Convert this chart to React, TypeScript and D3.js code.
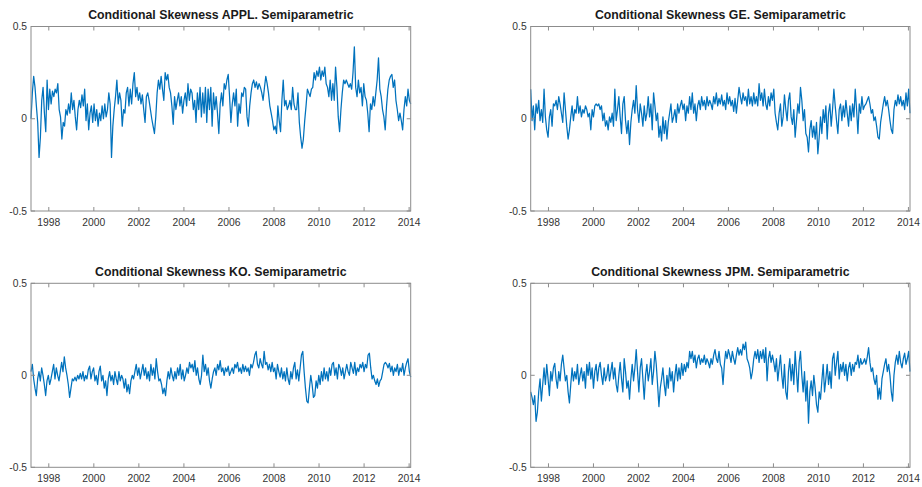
import React from "react";
import * as d3 from "d3";

const X_START = 1997.21;
const X_END = 2014.07;
const yearTicks = [1998, 2000, 2002, 2004, 2006, 2008, 2010, 2012, 2014];
const valueTicks = [-0.5, 0, 0.5];

const titles = [
  "Conditional Skewness APPL. Semiparametric",
  "Conditional Skewness GE. Semiparametric",
  "Conditional Skewness KO. Semiparametric",
  "Conditional Skewness JPM. Semiparametric",
];

const applSkew = [
  0.00, 0.14, 0.23, 0.17, 0.07, -0.02, -0.21, -0.10, 0.10, 0.17, 0.03, -0.07, 0.21, 0.05, 0.16, 0.08, 0.15, 0.12, 0.16, 0.14,
  0.19, 0.05, 0.01, -0.11, -0.02, -0.04, 0.05, 0.02, 0.08, 0.03, 0.14, 0.05, 0.10, 0.01, -0.06, 0.05, 0.10, 0.06, 0.13, 0.07,
  0.16, -0.01, 0.08, -0.06, 0.03, 0.07, -0.02, 0.08, -0.01, 0.05, -0.04, 0.03, -0.01, 0.07, 0.00, 0.08, 0.01, 0.05, 0.14, 0.08,
  -0.21, -0.04, 0.05, 0.12, 0.21, 0.08, 0.14, 0.10, -0.04, 0.05, 0.03, 0.14, 0.17, 0.07, 0.16, 0.08, 0.19, 0.25, 0.12, 0.17,
  0.10, 0.14, 0.08, 0.13, 0.05, -0.02, 0.12, 0.14, 0.10, 0.05, 0.00, -0.04, -0.08, 0.01, 0.14, 0.21, 0.16, 0.23, 0.16, 0.10,
  0.25, 0.21, 0.24, 0.17, 0.14, 0.07, -0.03, 0.12, 0.05, 0.10, 0.14, 0.07, 0.12, 0.03, 0.10, 0.14, 0.07, 0.19, 0.10, 0.16,
  0.14, 0.05, 0.10, -0.02, 0.14, 0.05, 0.17, 0.01, 0.14, 0.03, 0.17, -0.02, 0.16, 0.05, 0.17, -0.04, 0.14, 0.05, 0.12, 0.03,
  -0.08, 0.08, 0.14, 0.07, 0.19, 0.16, 0.21, 0.24, 0.12, -0.02, 0.08, 0.14, 0.07, 0.16, -0.04, 0.08, 0.03, 0.14, 0.12, 0.17,
  0.16, 0.01, -0.04, 0.07, 0.14, 0.19, 0.21, 0.17, 0.20, 0.16, 0.19, 0.17, 0.14, 0.10, 0.17, 0.23, 0.19, 0.14, 0.07, 0.03,
  -0.01, -0.06, -0.04, -0.08, 0.07, -0.01, -0.07, 0.10, 0.21, 0.07, 0.10, 0.05, 0.07, 0.10, 0.05, 0.17, 0.08, 0.05, 0.05, 0.14,
  -0.02, -0.10, -0.16, -0.11, -0.01, 0.07, 0.16, 0.14, 0.12, 0.16, 0.17, 0.25, 0.21, 0.26, 0.23, 0.28, 0.21, 0.26, 0.23, 0.28,
  0.19, 0.17, 0.12, 0.21, 0.10, 0.19, 0.10, 0.28, 0.17, 0.01, -0.07, 0.05, 0.14, 0.21, 0.19, 0.21, 0.19, 0.17, 0.19, 0.16,
  0.25, 0.39, 0.17, 0.12, 0.21, 0.14, 0.17, 0.07, 0.19, 0.12, 0.10, 0.03, -0.07, 0.08, 0.05, 0.12, 0.07, 0.14, 0.21, 0.33,
  0.16, 0.12, 0.05, 0.01, -0.06, 0.07, 0.16, 0.21, 0.23, 0.24, 0.17, 0.21, 0.10, 0.05, -0.01, 0.03, -0.01, -0.06, 0.05, 0.12,
  0.07, 0.16, 0.10, 0.08,
];

const geSkew = [
  0.16, -0.01, 0.07, -0.06, 0.08, 0.03, 0.10, -0.01, 0.05, -0.02, 0.16, 0.01, -0.06, -0.10, 0.01, 0.05, -0.04, 0.08, 0.07, 0.10,
  0.05, 0.12, 0.08, 0.03, -0.02, 0.14, 0.05, -0.04, -0.11, -0.06, 0.01, 0.07, -0.01, 0.05, 0.03, 0.12, 0.03, 0.07, 0.01, 0.05,
  0.03, 0.07, 0.05, 0.01, 0.03, -0.06, 0.05, 0.01, 0.07, 0.08, 0.07, 0.08, 0.05, 0.07, -0.01, 0.03, -0.04, -0.01, -0.06, 0.01,
  -0.02, 0.03, -0.04, 0.16, -0.01, 0.05, 0.12, 0.01, -0.08, 0.08, 0.12, -0.01, -0.08, -0.01, -0.14, -0.02, 0.05, 0.10, 0.03, 0.18,
  0.05, -0.02, 0.08, 0.03, -0.04, 0.07, -0.01, 0.03, 0.12, 0.01, 0.08, -0.06, 0.14, 0.07, -0.01, 0.03, -0.10, -0.04, -0.12, 0.01,
  -0.08, -0.01, -0.11, -0.02, 0.03, 0.08, -0.02, 0.01, 0.05, -0.02, 0.08, 0.03, 0.07, 0.10, 0.05, 0.08, -0.01, 0.07, 0.03, 0.12,
  0.05, 0.14, 0.03, 0.08, -0.01, 0.07, 0.10, 0.05, 0.12, 0.07, 0.10, 0.05, 0.12, 0.07, 0.10, 0.08, 0.05, 0.12, 0.08, 0.14,
  0.07, 0.11, 0.08, 0.13, 0.07, 0.10, 0.05, 0.14, 0.08, 0.12, 0.07, 0.10, 0.04, 0.11, 0.03, 0.10, 0.17, 0.12, 0.08, 0.14,
  0.10, 0.12, 0.07, 0.16, 0.08, 0.12, 0.07, 0.14, 0.08, 0.12, 0.07, 0.19, 0.10, 0.14, 0.07, 0.16, 0.08, 0.05, 0.12, 0.07,
  0.14, 0.10, 0.16, 0.03, -0.02, -0.06, 0.03, 0.08, -0.04, 0.01, 0.13, 0.05, -0.01, 0.10, 0.14, 0.01, -0.03, 0.05, -0.10, -0.01,
  0.08, 0.03, 0.17, 0.10, -0.01, 0.05, -0.08, -0.10, -0.18, -0.06, -0.01, -0.10, -0.04, -0.11, -0.02, -0.19, -0.10, 0.01, -0.08, 0.05,
  -0.02, 0.07, -0.11, 0.03, 0.08, -0.04, 0.05, 0.16, 0.07, -0.01, -0.08, 0.05, 0.08, -0.01, 0.07, 0.01, 0.10, 0.03, -0.04, 0.07,
  -0.01, 0.08, 0.01, 0.16, 0.05, -0.08, 0.08, 0.03, 0.12, 0.05, 0.07, 0.08, 0.10, 0.12, 0.08, 0.03, 0.05, -0.01, 0.01, -0.04,
  -0.10, -0.11, -0.02, 0.03, 0.08, 0.12, 0.07, 0.10, 0.05, -0.01, -0.06, -0.08, 0.05, 0.10, 0.07, 0.13, 0.08, 0.12, 0.07, 0.10,
  0.05, 0.14, 0.07, 0.16, 0.03,
];

const koSkew = [
  0.02, 0.06, -0.02, -0.07, -0.11, -0.02, 0.02, -0.03, 0.04, 0.00, -0.05, -0.11, -0.03, 0.00, -0.05, -0.02, 0.02, 0.06, -0.02, 0.04,
  0.00, -0.03, 0.02, 0.07, 0.02, 0.10, 0.04, 0.00, -0.05, -0.12, -0.07, -0.02, -0.03, -0.01, -0.03, 0.00, -0.02, 0.01, -0.02, 0.02,
  -0.03, 0.00, -0.02, 0.03, 0.05, -0.02, 0.02, 0.04, -0.03, 0.00, -0.05, 0.02, 0.05, -0.03, 0.00, -0.07, -0.03, -0.11, -0.02, 0.02,
  -0.03, 0.00, -0.05, 0.02, -0.02, -0.05, 0.02, -0.03, 0.00, -0.02, -0.07, -0.02, -0.09, -0.05, -0.10, -0.03, 0.00, -0.02, 0.02, 0.06,
  0.00, 0.04, -0.02, 0.02, 0.06, 0.00, 0.04, -0.02, 0.02, -0.03, 0.06, 0.00, 0.04, -0.02, 0.09, 0.02, -0.03, -0.02, -0.05, -0.10,
  -0.07, -0.11, -0.03, 0.02, -0.02, 0.04, 0.00, -0.03, 0.02, -0.02, 0.04, 0.00, 0.06, -0.02, 0.03, -0.03, 0.00, 0.04, 0.01, 0.07,
  0.04, 0.06, 0.02, 0.08, 0.00, 0.04, -0.02, -0.05, 0.00, 0.11, 0.02, 0.06, 0.00, 0.04, -0.03, -0.07, -0.02, 0.02, 0.04, 0.00,
  0.06, 0.03, 0.08, 0.02, 0.04, 0.00, 0.04, 0.02, 0.05, 0.00, 0.02, 0.04, 0.01, 0.06, 0.04, 0.07, 0.02, 0.04, 0.01, 0.06,
  0.02, 0.05, 0.02, 0.04, 0.00, 0.06, 0.04, 0.07, 0.11, 0.13, 0.06, 0.04, 0.09, 0.06, 0.04, 0.13, 0.06, 0.07, 0.03, 0.06,
  0.02, 0.07, 0.02, 0.04, -0.02, 0.06, 0.02, -0.01, 0.04, -0.02, 0.02, -0.03, 0.04, -0.02, -0.05, 0.02, -0.02, 0.04, 0.07, -0.02,
  0.03, -0.03, 0.04, 0.11, 0.13, 0.02, -0.07, -0.14, -0.15, -0.07, 0.00, -0.05, -0.12, -0.11, -0.03, -0.07, 0.00, -0.05, 0.02, -0.03,
  0.04, -0.02, 0.02, -0.03, 0.04, 0.00, 0.06, 0.07, 0.00, 0.04, -0.02, 0.06, 0.04, 0.00, 0.04, -0.02, 0.02, 0.06, 0.02, 0.00,
  0.07, 0.04, 0.01, 0.07, 0.00, 0.04, 0.02, 0.06, 0.04, 0.07, 0.02, 0.06, 0.04, 0.11, 0.12, 0.04, -0.02, 0.00, -0.03, -0.05,
  -0.02, -0.06, -0.03, -0.02, 0.02, 0.06, 0.07, 0.06, 0.04, 0.065, 0.02, 0.05, 0.00, 0.04, 0.02, 0.06, 0.00, 0.04, 0.02, 0.065,
  0.00, 0.04, 0.07, 0.09, 0.02, -0.01,
];

const jpmSkew = [
  -0.09, -0.12, -0.16, -0.11, -0.25, -0.20, -0.09, -0.02, -0.14, -0.05, 0.04, -0.05, 0.06, -0.02, -0.11, 0.02, -0.03, 0.04, 0.065, -0.02,
  -0.07, 0.02, -0.03, 0.06, 0.11, 0.04, -0.03, 0.00, -0.09, -0.15, -0.05, 0.04, -0.03, 0.02, -0.02, 0.06, -0.05, 0.00, 0.04, -0.03,
  0.02, -0.07, 0.06, 0.00, 0.07, -0.02, 0.04, -0.07, 0.02, 0.06, -0.03, 0.04, 0.07, 0.00, -0.05, 0.04, -0.03, 0.00, 0.06, -0.03,
  0.02, 0.07, -0.02, 0.04, -0.05, -0.09, 0.00, 0.07, -0.02, -0.09, 0.09, 0.02, -0.07, -0.03, -0.13, -0.02, 0.06, -0.03, 0.04, 0.14,
  0.02, -0.09, 0.04, 0.09, -0.02, -0.13, 0.00, 0.06, -0.03, 0.02, 0.09, -0.05, 0.02, 0.13, 0.06, -0.05, -0.17, -0.07, -0.02, 0.04,
  -0.05, -0.11, 0.00, -0.07, 0.04, -0.03, 0.02, -0.09, 0.00, 0.06, -0.03, 0.04, -0.02, 0.065, 0.00, 0.06, 0.02, 0.07, 0.04, 0.13,
  0.09, 0.13, 0.07, 0.11, 0.04, 0.09, 0.11, 0.06, 0.09, 0.07, 0.11, 0.06, 0.09, 0.07, 0.04, 0.09, 0.06, 0.11, 0.14, 0.09,
  0.07, 0.13, 0.06, 0.04, -0.05, 0.06, 0.13, 0.09, 0.14, 0.11, 0.07, 0.13, 0.09, 0.06, 0.11, 0.15, 0.11, 0.14, 0.11, 0.17,
  0.14, 0.18, 0.09, 0.07, 0.04, -0.02, 0.02, 0.09, 0.13, 0.09, 0.14, 0.07, 0.13, 0.09, 0.14, 0.07, 0.15, -0.03, 0.09, 0.13,
  0.07, 0.11, 0.07, 0.02, 0.09, -0.03, 0.04, 0.11, 0.00, -0.07, 0.06, -0.09, -0.13, 0.02, 0.09, -0.03, 0.06, -0.05, 0.13, 0.02,
  -0.09, 0.07, 0.13, 0.00, -0.09, 0.02, -0.14, -0.03, -0.26, -0.09, -0.03, -0.11, 0.00, -0.07, -0.16, -0.20, -0.09, -0.13, -0.03, 0.06,
  -0.09, -0.02, 0.06, -0.05, 0.02, -0.07, 0.09, 0.12, 0.00, 0.07, 0.13, -0.02, 0.06, 0.02, 0.07, 0.00, 0.06, -0.03, 0.04, 0.07,
  0.00, 0.06, 0.02, 0.07, 0.06, 0.11, 0.04, 0.09, 0.06, 0.07, 0.09, 0.06, 0.10, 0.15, 0.07, 0.02, 0.04, -0.02, -0.05, 0.00,
  -0.13, -0.07, -0.13, -0.02, 0.02, 0.06, 0.09, 0.02, 0.06, 0.00, -0.09, -0.14, 0.00, 0.07, 0.11, 0.06, 0.13, 0.07, 0.04, 0.09,
  0.12, 0.06, 0.09, 0.13, 0.02,
];

const seriesList = [applSkew, geSkew, koSkew, jpmSkew];

const panelBoxes = [
  { left: 31, right: 410.7, top: 26.5, bottom: 211 },
  { left: 530.7, right: 910, top: 26.5, bottom: 211 },
  { left: 31, right: 410.7, top: 283.3, bottom: 467.3 },
  { left: 530.7, right: 910, top: 283.3, bottom: 467.3 },
];

const AXIS_COLOR = "#8c8c8c";
const TEXT_COLOR = "#333333";
const LINE_COLOR = "#0072BD";
const FONT = "'Liberation Sans', Arial, Helvetica, sans-serif";

function Panel({ idx }: { idx: number }) {
  const b = panelBoxes[idx];
  const values = seriesList[idx];
  const n = values.length;
  const dates = d3.range(n).map((i) => X_START + (i * (X_END - X_START)) / (n - 1));
  const x = d3.scaleLinear().domain([X_START, X_END]).range([b.left, b.right]);
  const y = d3.scaleLinear().domain([-0.5, 0.5]).range([b.bottom, b.top]);
  const line = d3
    .line<number>()
    .x((_, i) => x(dates[i]))
    .y((d) => y(d));
  const tl = 4;
  return (
    <g>
      <text
        x={(b.left + b.right) / 2}
        y={b.top - 7.5}
        textAnchor="middle"
        fontFamily={FONT}
        fontWeight="bold"
        fontSize={12.3}
        fill="#1a1a1a"
      >
        {titles[idx]}
      </text>
      <path d={line(values) || ""} fill="none" stroke={LINE_COLOR} strokeWidth={1.25} strokeLinejoin="round" />
      <rect
        x={b.left}
        y={b.top}
        width={b.right - b.left}
        height={b.bottom - b.top}
        fill="none"
        stroke={AXIS_COLOR}
        strokeWidth={1}
      />
      {yearTicks.map((t) => (
        <g key={"x" + t}>
          <line x1={x(t)} x2={x(t)} y1={b.bottom} y2={b.bottom - tl} stroke={AXIS_COLOR} />
          <line x1={x(t)} x2={x(t)} y1={b.top} y2={b.top + tl} stroke={AXIS_COLOR} />
          <text
            x={x(t)}
            y={b.bottom + 14.5}
            textAnchor="middle"
            fontFamily={FONT}
            fontSize={10.3}
            fill={TEXT_COLOR}
          >
            {t}
          </text>
        </g>
      ))}
      {valueTicks.map((t) => (
        <g key={"y" + t}>
          <line x1={b.left} x2={b.left + tl} y1={y(t)} y2={y(t)} stroke={AXIS_COLOR} />
          <line x1={b.right} x2={b.right - tl} y1={y(t)} y2={y(t)} stroke={AXIS_COLOR} />
          <text
            x={b.left - 4}
            y={y(t)}
            dy="0.35em"
            textAnchor="end"
            fontFamily={FONT}
            fontSize={10.3}
            fill={TEXT_COLOR}
          >
            {t}
          </text>
        </g>
      ))}
    </g>
  );
}

export default function App() {
  return (
    <svg
      width={922}
      height={487}
      style={{ position: "absolute", left: 0, top: 0, background: "#ffffff" }}
    >
      <rect x={0} y={0} width={922} height={487} fill="#ffffff" />
      {[0, 1, 2, 3].map((i) => (
        <Panel key={i} idx={i} />
      ))}
    </svg>
  );
}
